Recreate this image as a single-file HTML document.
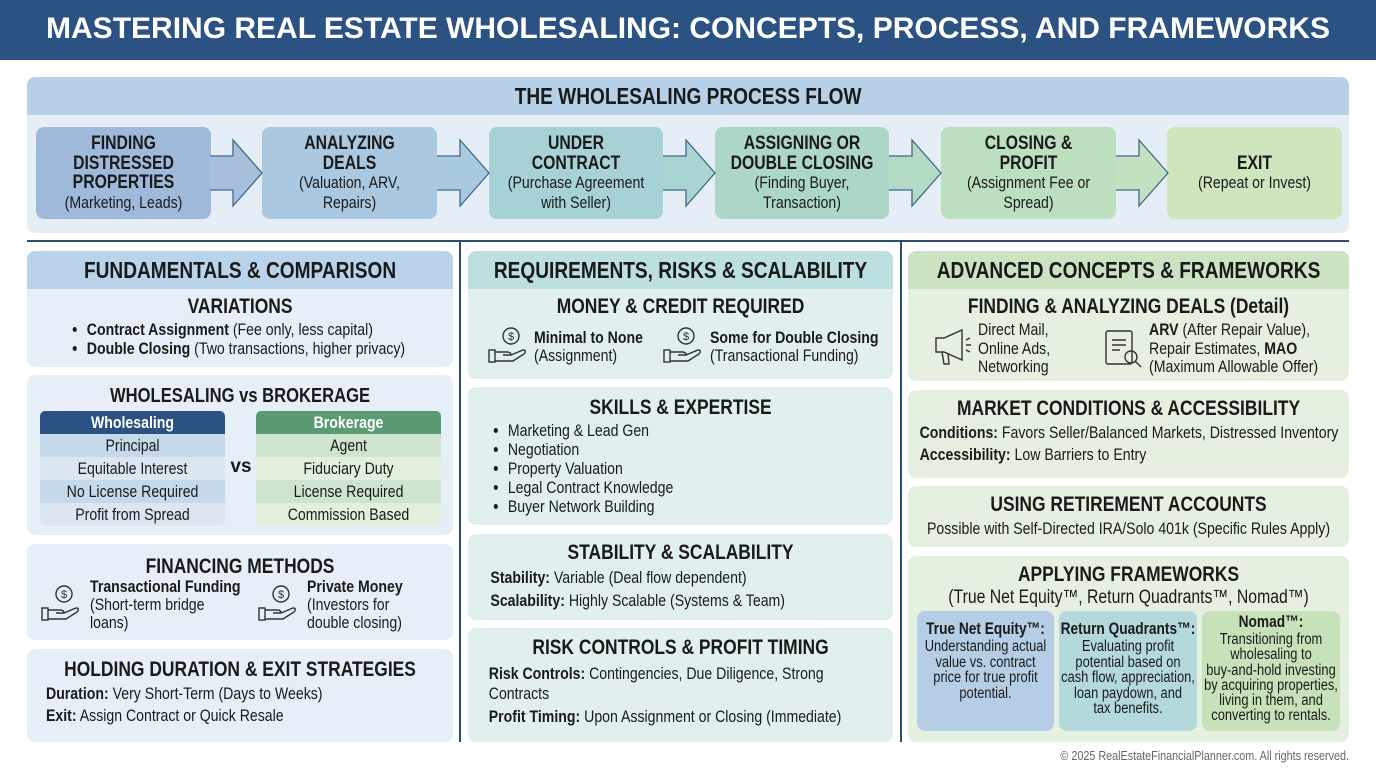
<!DOCTYPE html>
<html><head><meta charset="utf-8">
<style>
*{margin:0;padding:0;box-sizing:border-box}
body{width:1376px;height:768px;background:#fff;position:relative;overflow:hidden;font-family:"Liberation Sans",sans-serif;color:#1a1a1a}
.a{position:absolute}
.s{transform:scaleX(.83);transform-origin:0 0;width:120.5%}
.title{left:0;top:0;width:1376px;height:60px;background:#2b5282;color:#fff;font-weight:bold;font-size:30px;text-align:center;line-height:58px}
.panel{border-radius:8px}
.hdr{border-radius:8px 8px 0 0;font-weight:bold;font-size:23px;text-align:center;line-height:38px;white-space:nowrap}
.box{border-radius:8px;text-align:center;font-size:17px;line-height:19.5px;display:flex;flex-direction:column;justify-content:center;color:#1a1a1a;white-space:nowrap}
.box b{font-size:19px}
h3{font-size:21px;text-align:center;font-weight:bold;line-height:26px;white-space:nowrap}
.sec{border-radius:8px;padding-top:6px}
ul{font-size:16px;line-height:19px;padding-left:46px;white-space:nowrap}
.t{font-size:16px;line-height:22px;white-space:nowrap;transform:scaleX(.83);transform-origin:0 0}
.row{height:23px;text-align:center;font-size:17px;line-height:23px;white-space:nowrap}
.fw{white-space:nowrap}
</style></head><body>
<div class="a title">MASTERING REAL ESTATE WHOLESALING: CONCEPTS, PROCESS, AND FRAMEWORKS</div>

<div class="a panel" style="left:27px;top:77px;width:1322px;height:156px;background:#e5eef6"></div>
<div class="a hdr" style="left:27px;top:77px;width:1322px;height:38px;background:#b5d0e7"><div class="s">THE WHOLESALING PROCESS FLOW</div></div>

<div class="a box" style="left:36px;top:127px;width:175px;height:92px;background:#9fb9da"><div class="s"><b>FINDING<br>DISTRESSED<br>PROPERTIES</b><br>(Marketing, Leads)</div></div>
<div class="a box" style="left:262px;top:127px;width:175px;height:92px;background:#aac8df"><div class="s"><b>ANALYZING<br>DEALS</b><br>(Valuation, ARV,<br>Repairs)</div></div>
<div class="a box" style="left:489px;top:127px;width:174px;height:92px;background:#a6d2d6"><div class="s"><b>UNDER<br>CONTRACT</b><br>(Purchase Agreement<br>with Seller)</div></div>
<div class="a box" style="left:715px;top:127px;width:174px;height:92px;background:#acd7c6"><div class="s"><b>ASSIGNING OR<br>DOUBLE CLOSING</b><br>(Finding Buyer,<br>Transaction)</div></div>
<div class="a box" style="left:941px;top:127px;width:175px;height:92px;background:#bcdfc0"><div class="s"><b>CLOSING &amp;<br>PROFIT</b><br>(Assignment Fee or<br>Spread)</div></div>
<div class="a box" style="left:1167px;top:127px;width:175px;height:92px;background:#cfe5bd"><div class="s"><b>EXIT</b><br>(Repeat or Invest)</div></div>

<svg class="a" style="left:0;top:0" width="1376" height="768">
<g stroke="#3e6a8e" stroke-width="1.3" stroke-linejoin="miter">
<path d="M210 156 H233 V140 L262 173 L233 206 V190 H210" fill="#a6c0dc"/>
<path d="M437 156 H460 V140 L489 173 L460 206 V190 H437" fill="#a9cade"/>
<path d="M663 156 H686 V140 L715 173 L686 206 V190 H663" fill="#a8d4d2"/>
<path d="M889 156 H912 V140 L941 173 L912 206 V190 H889" fill="#b2dac4"/>
<path d="M1116 156 H1139 V140 L1168 173 L1139 206 V190 H1116" fill="#c2e1bf"/>
</g>
<line x1="27" y1="241" x2="1349" y2="241" stroke="#2b4d70" stroke-width="2"/>
<line x1="460" y1="241" x2="460" y2="742" stroke="#2b4d70" stroke-width="2"/>
<line x1="901" y1="241" x2="901" y2="742" stroke="#2b4d70" stroke-width="2"/>
</svg>

<!-- column 1 -->
<div class="a panel" style="left:27px;top:251px;width:426px;height:116px;background:#e6eff7"></div>
<div class="a hdr" style="left:27px;top:251px;width:426px;height:38px;background:#b8d3ea"><div class="s">FUNDAMENTALS &amp; COMPARISON</div></div>
<div class="a" style="left:27px;top:294px;width:426px"><div class="s"><h3>VARIATIONS</h3>
<ul style="padding-left:72px;font-size:17px"><li><b>Contract Assignment</b> (Fee only, less capital)</li><li><b>Double Closing</b> (Two transactions, higher privacy)</li></ul></div></div>

<div class="a sec" style="left:27px;top:375px;width:426px;height:160px;background:#e6eff7"><div class="s"><h3 style="margin-top:2px;font-size:20px">WHOLESALING vs BROKERAGE</h3></div></div>
<div class="a" style="left:40px;top:411px;width:185px;border-radius:5px;overflow:hidden">
<div class="row" style="background:#2b5282;color:#fff;font-weight:bold"><div class="s">Wholesaling</div></div>
<div class="row" style="background:#c6d9ea"><div class="s">Principal</div></div>
<div class="row" style="background:#dbe6f0"><div class="s">Equitable Interest</div></div>
<div class="row" style="background:#c6d9ea"><div class="s">No License Required</div></div>
<div class="row" style="background:#dbe6f0"><div class="s">Profit from Spread</div></div></div>
<div class="a" style="left:226px;top:456px;width:30px;text-align:center;font-weight:bold;font-size:19px">vs</div>
<div class="a" style="left:256px;top:411px;width:185px;border-radius:5px;overflow:hidden">
<div class="row" style="background:#5a9b74;color:#fff;font-weight:bold"><div class="s">Brokerage</div></div>
<div class="row" style="background:#cfe4cf"><div class="s">Agent</div></div>
<div class="row" style="background:#e2efdc"><div class="s">Fiduciary Duty</div></div>
<div class="row" style="background:#cfe4cf"><div class="s">License Required</div></div>
<div class="row" style="background:#e2efdc"><div class="s">Commission Based</div></div></div>

<div class="a sec" style="left:27px;top:544px;width:426px;height:96px;background:#e6eff7"><div class="s"><h3 style="margin-top:4px">FINANCING METHODS</h3></div></div>
<div class="a t" style="left:90px;top:578px;line-height:18px;font-size:17px"><b>Transactional Funding</b><br>(Short-term bridge<br>loans)</div>
<div class="a t" style="left:307px;top:578px;line-height:18px;font-size:17px"><b>Private Money</b><br>(Investors for<br>double closing)</div>

<div class="a sec" style="left:27px;top:649px;width:426px;height:93px;background:#e6eff7"><div class="s"><h3 style="margin-top:2px">HOLDING DURATION &amp; EXIT STRATEGIES</h3></div></div>
<div class="a t" style="left:46px;top:683px;font-size:17px"><b>Duration:</b> Very Short-Term (Days to Weeks)<br><b>Exit:</b> Assign Contract or Quick Resale</div>

<!-- column 2 -->
<div class="a panel" style="left:468px;top:251px;width:425px;height:128px;background:#e1efef"></div>
<div class="a hdr" style="left:468px;top:251px;width:425px;height:38px;background:#bcdfe0"><div class="s">REQUIREMENTS, RISKS &amp; SCALABILITY</div></div>
<div class="a" style="left:468px;top:294px;width:425px"><div class="s"><h3>MONEY &amp; CREDIT REQUIRED</h3></div></div>
<div class="a t" style="left:534px;top:329px;line-height:18px;font-size:17px"><b>Minimal to None</b><br>(Assignment)</div>
<div class="a t" style="left:710px;top:329px;line-height:18px;font-size:17px"><b>Some for Double Closing</b><br>(Transactional Funding)</div>

<div class="a sec" style="left:468px;top:387px;width:425px;height:138px;background:#e1efef"><div class="s"><h3 style="margin-top:2px">SKILLS &amp; EXPERTISE</h3>
<ul style="font-size:17px;padding-left:48px"><li>Marketing &amp; Lead Gen</li><li>Negotiation</li><li>Property Valuation</li><li>Legal Contract Knowledge</li><li>Buyer Network Building</li></ul></div></div>

<div class="a sec" style="left:468px;top:534px;width:425px;height:86px;background:#e1efef"><div class="s"><h3 style="margin-top:0">STABILITY &amp; SCALABILITY</h3>
<div style="padding-left:27px;font-size:17px;line-height:23px;white-space:nowrap"><b>Stability:</b> Variable (Deal flow dependent)<br><b>Scalability:</b> Highly Scalable (Systems &amp; Team)</div></div></div>

<div class="a sec" style="left:468px;top:628px;width:425px;height:114px;background:#e1efef"><div class="s"><h3 style="margin-top:1px">RISK CONTROLS &amp; PROFIT TIMING</h3>
<div style="padding-left:25px;font-size:17px;line-height:20px;margin-top:3px;white-space:nowrap"><b>Risk Controls:</b> Contingencies, Due Diligence, Strong<br>Contracts<div style="height:3px"></div><b>Profit Timing:</b> Upon Assignment or Closing (Immediate)</div></div></div>

<!-- column 3 -->
<div class="a panel" style="left:908px;top:251px;width:441px;height:130px;background:#e6f0e0"></div>
<div class="a hdr" style="left:908px;top:251px;width:441px;height:38px;background:#cce3c3"><div class="s">ADVANCED CONCEPTS &amp; FRAMEWORKS</div></div>
<div class="a" style="left:908px;top:294px;width:441px"><div class="s"><h3>FINDING &amp; ANALYZING DEALS (Detail)</h3></div></div>
<div class="a t" style="left:978px;top:321px;line-height:18.5px;font-size:17px">Direct Mail,<br>Online Ads,<br>Networking</div>
<div class="a t" style="left:1149px;top:321px;line-height:18.5px;font-size:17px"><b>ARV</b> (After Repair Value),<br>Repair Estimates, <b>MAO</b><br>(Maximum Allowable Offer)</div>

<div class="a sec" style="left:908px;top:390px;width:441px;height:88px;background:#e6f0e0"><div class="s"><h3 style="margin-top:0">MARKET CONDITIONS &amp; ACCESSIBILITY</h3>
<div style="padding-left:14px;font-size:17px;line-height:22px;white-space:nowrap"><b>Conditions:</b> Favors Seller/Balanced Markets, Distressed Inventory<br><b>Accessibility:</b> Low Barriers to Entry</div></div></div>

<div class="a sec" style="left:908px;top:486px;width:441px;height:61px;background:#e6f0e0"><div class="s"><h3 style="margin-top:0">USING RETIREMENT ACCOUNTS</h3>
<div style="text-align:center;font-size:17px;line-height:22px;white-space:nowrap">Possible with Self-Directed IRA/Solo 401k (Specific Rules Apply)</div></div></div>

<div class="a sec" style="left:908px;top:556px;width:441px;height:186px;background:#e6f0e0"><div class="s"><h3 style="margin-top:0">APPLYING FRAMEWORKS</h3>
<div style="text-align:center;font-size:19px;line-height:20px;white-space:nowrap">(True Net Equity™, Return Quadrants™, Nomad™)</div></div></div>
<div class="a fw" style="left:917px;top:611px;width:137px;height:120px;border-radius:8px;background:#b6cde6;text-align:center;font-size:15.5px;line-height:15.5px;padding-top:8px"><div class="s"><b style="font-size:16.5px;line-height:20px">True Net Equity™:</b><br>Understanding actual<br>value vs. contract<br>price for true profit<br>potential.</div></div>
<div class="a fw" style="left:1059px;top:611px;width:138px;height:120px;border-radius:8px;background:#b3d9dc;text-align:center;font-size:15.5px;line-height:15.5px;padding-top:8px"><div class="s"><b style="font-size:16.5px;line-height:20px">Return Quadrants™:</b><br>Evaluating profit<br>potential based on<br>cash flow, appreciation,<br>loan paydown, and<br>tax benefits.</div></div>
<div class="a fw" style="left:1202px;top:611px;width:138px;height:120px;border-radius:8px;background:#c7e2b9;text-align:center;font-size:15.5px;line-height:15.3px;padding-top:1px"><div class="s"><b style="font-size:16.5px;line-height:20px">Nomad™:</b><br>Transitioning from<br>wholesaling to<br>buy-and-hold investing<br>by acquiring properties,<br>living in them, and<br>converting to rentals.</div></div>

<div class="a" style="left:1030px;top:748px;width:319px;font-size:13px;color:#666;white-space:nowrap"><div class="s" style="text-align:right;width:120.5%">© 2025 RealEstateFinancialPlanner.com. All rights reserved.</div></div>

<!-- icons -->
<svg class="a" style="left:0;top:0" width="1376" height="768" fill="none" stroke="#333" stroke-width="1.4">
<defs><g id="hand"><circle cx="14" cy="-4" r="8"/><text x="14" y="0" font-size="11" text-anchor="middle" fill="#333" stroke="none" font-family="Liberation Sans">$</text><rect x="-8" y="10" width="6" height="12"/><path d="M-2 12 H10 Q14 12 14 15 H6 M14 15 L26 10 Q30 10 27 14 L16 21 H-2"/></g></defs>
<use href="#hand" x="50" y="598"/><use href="#hand" x="267" y="598"/>
<use href="#hand" x="497" y="340"/><use href="#hand" x="672" y="340"/>
<g transform="translate(932,330)"><path d="M4 8 H12 L30 0 V30 L12 22 H4 Z M10 22 L12 34 H17 L16 23"/><path d="M34 10 L38 8 M34 15 H39 M34 20 L38 22"/></g>
<g transform="translate(1106,328)"><rect x="0" y="3" width="26" height="33" rx="2"/><path d="M6 12 H20 M6 17 H20 M6 22 H14"/><circle cx="25" cy="29" r="6"/><path d="M29 33 L35 39"/></g>
</svg>
</body></html>
